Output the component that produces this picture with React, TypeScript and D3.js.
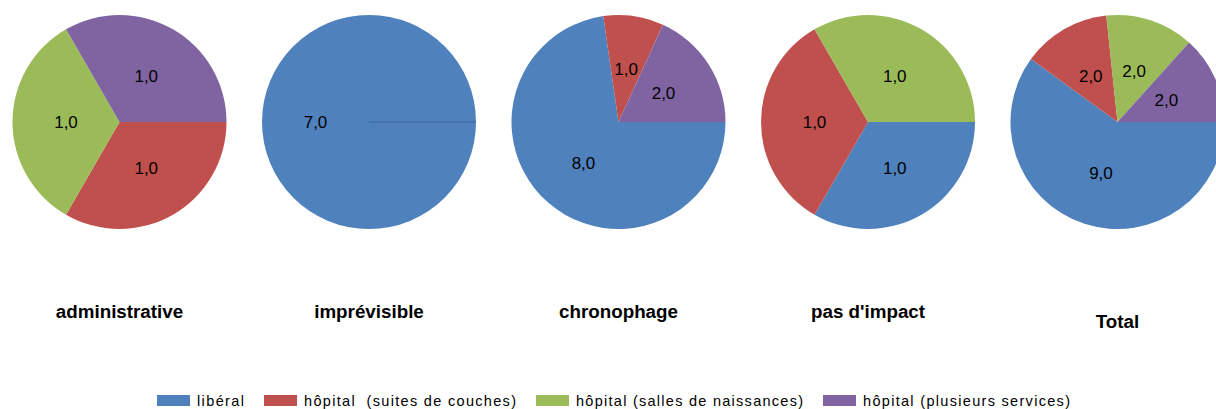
import React from "react";
import * as d3 from "d3";

const categories = ["administrative", "imprévisible", "chronophage", "pas d'impact", "Total"];
const seriesNames = [
  "libéral",
  "hôpital  (suites de couches)",
  "hôpital (salles de naissances)",
  "hôpital (plusieurs services)",
];
const liberal = [0, 7, 8, 1, 9];
const suitesCouches = [1, 0, 1, 1, 2];
const sallesNaissances = [1, 0, 0, 1, 2];
const plusieursServices = [1, 0, 2, 0, 2];
const colors = ["#4F81BD", "#C0504D", "#9BBB59", "#8064A2"];

const W = 1216;
const H = 409;
const R = 107;
const CY = 122;
const FIRST_CX = 119.5;
const STEP = 249.5;
const legendTextWidths = [47, 212, 227, 207];

export default function App() {
  const series = [liberal, suitesCouches, sallesNaissances, plusieursServices];
  const pie = d3
    .pie<number>()
    .sort(null)
    .value((d) => d)
    .startAngle(Math.PI / 2)
    .endAngle(Math.PI / 2 + 2 * Math.PI);
  const arc = d3.arc<d3.PieArcDatum<number>>().innerRadius(0).outerRadius(R);
  const xPos = d3
    .scalePoint<string>()
    .domain(categories)
    .range([FIRST_CX, FIRST_CX + STEP * (categories.length - 1)]);

  // legend layout
  let lx = 157;
  const legendItems = seriesNames.map((name, i) => {
    const item = { name, x: lx, w: legendTextWidths[i], color: colors[i] };
    lx += 33 + 7 + legendTextWidths[i] + 20;
    return item;
  });

  return (
    <svg
      width={W}
      height={H}
      style={{ position: "absolute", left: 0, top: 0, display: "block", background: "#fff" }}
      fontFamily="Arial, 'Liberation Sans', sans-serif"
    >
      {categories.map((cat, ci) => {
        const vals = series.map((s) => s[ci]);
        const arcs = pie(vals);
        const cx = xPos(cat)!;
        const nonZero = vals.filter((v) => v > 0).length;
        return (
          <g key={cat} transform={`translate(${cx},${CY})`}>
            {arcs.map((a, i) =>
              a.value > 0 ? <path key={i} d={arc(a) || ""} fill={colors[i]} /> : null
            )}
            {nonZero === 1 && (
              <line
                x1={0}
                y1={0}
                x2={R * Math.sin(Math.PI / 2)}
                y2={-R * Math.cos(Math.PI / 2)}
                stroke="#3E6797"
                strokeWidth={1}
              />
            )}
            {arcs.map((a, i) => {
              if (a.value <= 0) return null;
              const [lx2, ly2] = arc.centroid(a);
              return (
                <text
                  key={"t" + i}
                  x={lx2}
                  y={ly2}
                  dy="0.36em"
                  textAnchor="middle"
                  fontSize={17}
                  fill="#000"
                >
                  {d3.format(".1f")(a.value).replace(".", ",")}
                </text>
              );
            })}
          </g>
        );
      })}
      {categories.map((cat, ci) => (
        <text
          key={"title" + cat}
          x={xPos(cat)!}
          y={ci === categories.length - 1 ? 328 : 318}
          textAnchor="middle"
          fontWeight="bold"
          fontSize={18.8}
          fill="#000"
        >
          {cat}
        </text>
      ))}
      {legendItems.map((it) => (
        <g key={it.name}>
          <rect x={it.x} y={395} width={33} height={11} fill={it.color} />
          <text
            x={it.x + 40}
            y={406}
            fontSize={14.5}
            fill="#000"
            textLength={it.w}
            lengthAdjust="spacing"
            style={{ whiteSpace: "pre" }}
          >
            {it.name}
          </text>
        </g>
      ))}
    </svg>
  );
}
